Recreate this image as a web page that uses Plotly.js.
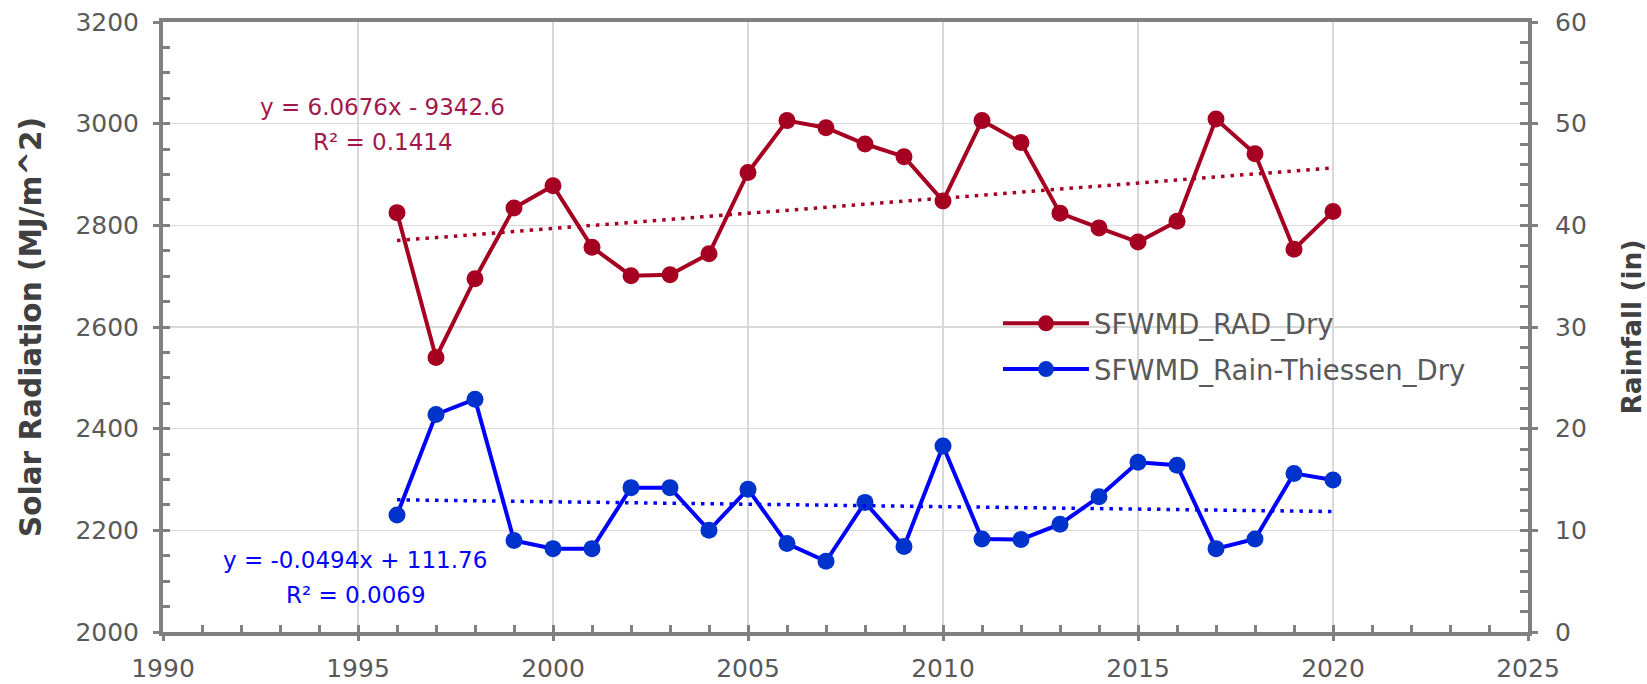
<!DOCTYPE html>
<html>
<head>
<meta charset="utf-8">
<script src="https://cdn.plot.ly/plotly-3.0.1.min.js"></script>
<style>
  html, body { margin: 0; padding: 0; background: #ffffff; }
  #chart { width: 1647px; height: 684px; }
</style>
</head>
<body>
<div id="chart"></div>
<script>
// ---- Data ----
const years = [1996, 1997, 1998, 1999, 2000, 2001, 2002, 2003, 2004, 2005, 2006, 2007, 2008,
               2009, 2010, 2011, 2012, 2013, 2014, 2015, 2016, 2017, 2018, 2019, 2020];
const solarRadDry = [2825, 2540, 2695, 2834, 2878, 2757, 2701, 2703, 2744, 2904, 3006, 2992, 2960,
                     2935, 2848, 3006, 2963, 2824, 2795, 2767, 2808, 3009, 2941, 2753, 2827];
const rainThiessenDry = [11.5, 21.4, 22.9, 9.0, 8.2, 8.2, 14.2, 14.2, 10.0, 14.05, 8.7, 6.95, 12.75,
                         8.4, 18.3, 9.15, 9.1, 10.6, 13.3, 16.7, 16.4, 8.2, 9.15, 15.6, 14.95];
// trend line end points as drawn in the picture
const trendYears = [1996, 2020];
const solarTrend = [2770, 2913];
const rainTrend = [13.0, 11.85];

const seriesNames = ["SFWMD_RAD_Dry", "SFWMD_Rain-Thiessen_Dry"];
const solarEq = ["y = 6.0676x - 9342.6", "R² = 0.1414"];
const rainEq = ["y = -0.0494x + 111.76", "R² = 0.0069"];
const yTitleLeft = "Solar Radiation (MJ/m^2)";
const yTitleRight = "Rainfall (in)";

// ---- Styles ----
const RED = "#A50021";
const BLUE_LINE = "#0000FF";
const BLUE_MARK = "#0033CC";
const AXIS = "#808080";
const GRID = "#D9D9D9";
const TICKTXT = "#595959";
const FONT = "DejaVu Sans, Verdana, sans-serif";

const traces = [
  {
    // red trend drawn on overlay axes (same ranges) that carry the inside minor ticks
    x: trendYears, y: solarTrend, mode: "lines", xaxis: "x2", yaxis: "y3",
    line: { color: RED, width: 3.5, dash: "3.5px,6px" },
    showlegend: false, hoverinfo: "skip"
  },
  {
    x: trendYears, y: rainTrend, mode: "lines", xaxis: "x", yaxis: "y4",
    line: { color: BLUE_LINE, width: 3.5, dash: "3.5px,6px" },
    showlegend: false, hoverinfo: "skip"
  },
  {
    x: years, y: solarRadDry, name: seriesNames[0], mode: "lines+markers", yaxis: "y",
    legendgroup: "a",
    line: { color: RED, width: 4 },
    marker: { color: RED, size: 17 }
  },
  {
    x: years, y: rainThiessenDry, name: seriesNames[1], mode: "lines+markers", yaxis: "y2",
    legendgroup: "b",
    line: { color: BLUE_LINE, width: 4 },
    marker: { color: BLUE_MARK, size: 17 }
  }
];

const tickFont = { family: FONT, size: 25, color: TICKTXT };
const xRange = [1990, 2025];
const yRange = [2000, 3200];
const y2Range = [0, 60];

const layout = {
  width: 1647, height: 684,
  margin: { l: 163, r: 119, t: 22, b: 52 },
  paper_bgcolor: "#ffffff", plot_bgcolor: "#ffffff",
  showlegend: true,
  legend: {
    x: 0.6117, y: 0.546, xanchor: "left", yanchor: "top",
    font: { family: FONT, size: 27.5, color: TICKTXT },
    bgcolor: "rgba(0,0,0,0)", borderwidth: 0,
    tracegroupgap: 7, traceorder: "grouped", itemwidth: 86
  },
  xaxis: {
    range: xRange, tick0: 1990, dtick: 5,
    showgrid: true, gridcolor: GRID, gridwidth: 1.5,
    showline: true, linecolor: AXIS, linewidth: 4, mirror: true,
    ticks: "outside", ticklen: 5, tickwidth: 3, tickcolor: AXIS,
    tickfont: tickFont, ticklabelstandoff: 6, zeroline: false, fixedrange: true
  },
  xaxis2: {
    range: xRange, tick0: 1990, dtick: 1, overlaying: "x", anchor: "y", side: "bottom",
    showgrid: false, showline: false, zeroline: false, showticklabels: false,
    ticks: "inside", ticklen: 7, tickwidth: 3, tickcolor: AXIS, fixedrange: true
  },
  yaxis: {
    range: yRange, tick0: 2000, dtick: 200,
    showgrid: true, gridcolor: GRID, gridwidth: 1.5,
    showline: true, linecolor: AXIS, linewidth: 4,
    ticks: "outside", ticklen: 6, tickwidth: 3, tickcolor: AXIS,
    tickfont: tickFont, ticklabelstandoff: 9, zeroline: false,
    title: { text: yTitleLeft, font: { family: FONT, size: 29.5, color: "#404040", weight: "bold" }, standoff: 26 },
    automargin: false, fixedrange: true
  },
  yaxis3: {
    range: yRange, tick0: 2000, dtick: 50, overlaying: "y", anchor: "x", side: "left",
    showgrid: false, showline: false, zeroline: false, showticklabels: false,
    ticks: "inside", ticklen: 7, tickwidth: 3, tickcolor: AXIS, fixedrange: true
  },
  yaxis2: {
    range: y2Range, tick0: 0, dtick: 10, overlaying: "y", side: "right",
    showgrid: false,
    showline: true, linecolor: AXIS, linewidth: 4,
    ticks: "outside", ticklen: 6, tickwidth: 3, tickcolor: AXIS,
    tickfont: tickFont, ticklabelstandoff: 12, zeroline: false,
    title: { text: yTitleRight, font: { family: FONT, size: 26.5, color: "#404040", weight: "bold" }, standoff: 38 },
    automargin: false, fixedrange: true
  },
  yaxis4: {
    range: y2Range, tick0: 0, dtick: 2, overlaying: "y", anchor: "x", side: "right",
    showgrid: false, showline: false, zeroline: false, showticklabels: false,
    ticks: "inside", ticklen: 8, tickwidth: 3, tickcolor: AXIS, fixedrange: true
  },
  annotations: [
    { text: solarEq[0], xref: "x", yref: "y", x: 1995.64, y: 3032, showarrow: false,
      xanchor: "center", yanchor: "middle", font: { family: FONT, size: 23, color: "#A3184B" } },
    { text: solarEq[1], xref: "x", yref: "y", x: 1995.64, y: 2964, showarrow: false,
      xanchor: "center", yanchor: "middle", font: { family: FONT, size: 23, color: "#A3184B" } },
    { text: rainEq[0], xref: "x", yref: "y2", x: 1994.92, y: 7.08, showarrow: false,
      xanchor: "center", yanchor: "middle", font: { family: FONT, size: 23, color: BLUE_LINE } },
    { text: rainEq[1], xref: "x", yref: "y2", x: 1994.95, y: 3.64, showarrow: false,
      xanchor: "center", yanchor: "middle", font: { family: FONT, size: 23, color: BLUE_LINE } }
  ]
};

Plotly.newPlot("chart", traces, layout, { displayModeBar: false, staticPlot: true });
</script>
</body>
</html>
